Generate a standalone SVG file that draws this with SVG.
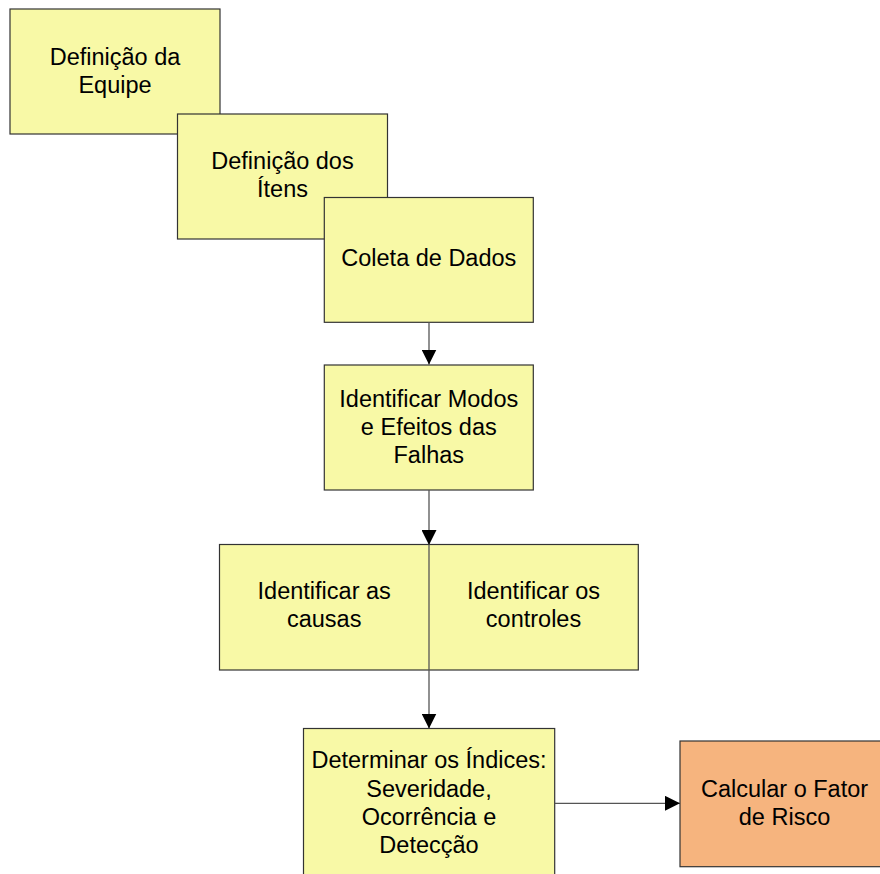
<svg xmlns="http://www.w3.org/2000/svg" width="880" height="874" viewBox="0 0 880 874">
  <style>
    .box { fill: #F8F9A6; stroke: #333333; stroke-width: 1.2; }
    .box-alt { fill: #F6B47E; stroke: #333333; stroke-width: 1.2; }
    .lbl { font-family: "Liberation Sans", Arial, sans-serif; font-size: 23.5px; fill: #000000; text-anchor: middle; }
    .conn { stroke: #555555; stroke-width: 1.3; fill: none; }
  </style>
  <defs>
    <marker id="arrow" markerWidth="15" markerHeight="15" refX="15" refY="7.5" orient="auto" markerUnits="userSpaceOnUse">
      <path d="M0,0 L15,7.5 L0,15 Z" fill="#000000"/>
    </marker>
  </defs>
  <rect width="880" height="874" fill="#ffffff"/>

  <g id="definicao-equipe">
    <rect class="box" x="10" y="9" width="210" height="125"/>
    <text class="lbl" x="115" y="65">Definição da</text>
    <text class="lbl" x="115" y="92.5">Equipe</text>
  </g>

  <g id="definicao-itens">
    <rect class="box" x="177.5" y="114" width="210" height="125"/>
    <text class="lbl" x="282.5" y="169.3">Definição dos</text>
    <text class="lbl" x="282.5" y="196.8">Ítens</text>
  </g>

  <g id="coleta-dados">
    <rect class="box" x="324.3" y="197.5" width="209" height="124.8"/>
    <text class="lbl" x="428.8" y="266">Coleta de Dados</text>
  </g>

  <g id="identificar-modos">
    <rect class="box" x="324.3" y="365" width="209" height="125"/>
    <text class="lbl" x="428.8" y="406.5">Identificar Modos</text>
    <text class="lbl" x="428.8" y="434.8">e Efeitos das</text>
    <text class="lbl" x="428.8" y="463.1">Falhas</text>
  </g>

  <g id="identificar-causas-controles">
    <rect class="box" x="219.5" y="544.5" width="418.8" height="125.5"/>
    <text class="lbl" x="324.2" y="599">Identificar as</text>
    <text class="lbl" x="324.2" y="627">causas</text>
    <text class="lbl" x="533.5" y="599">Identificar os</text>
    <text class="lbl" x="533.5" y="627">controles</text>
  </g>

  <g id="determinar-indices">
    <rect class="box" x="303.5" y="728.5" width="251.2" height="160"/>
    <text class="lbl" x="429" y="768.3">Determinar os Índices:</text>
    <text class="lbl" x="429" y="796.6">Severidade,</text>
    <text class="lbl" x="429" y="824.9">Ocorrência e</text>
    <text class="lbl" x="429" y="853.2">Detecção</text>
  </g>

  <g id="calcular-fator-risco">
    <rect class="box-alt" x="680" y="741" width="209" height="125.7"/>
    <text class="lbl" x="784.5" y="797.3">Calcular o Fator</text>
    <text class="lbl" x="784.5" y="825">de Risco</text>
  </g>

  <g id="connectors">
    <line class="conn" x1="429" y1="322.3" x2="429" y2="364.5" marker-end="url(#arrow)"/>
    <line class="conn" x1="429" y1="490" x2="429" y2="545" marker-end="url(#arrow)"/>
    <line class="conn" x1="429" y1="545" x2="429" y2="728.5" marker-end="url(#arrow)"/>
    <line class="conn" x1="554.7" y1="803.3" x2="680" y2="803.3" marker-end="url(#arrow)"/>
  </g>
</svg>
